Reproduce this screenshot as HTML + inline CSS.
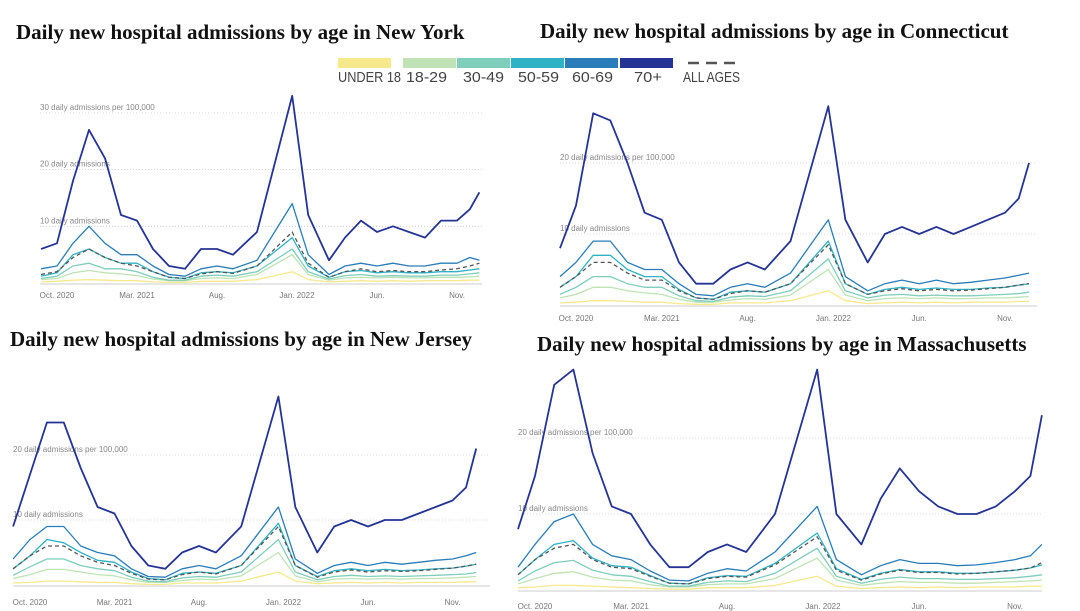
<!DOCTYPE html>
<html><head><meta charset="utf-8">
<style>
body{margin:0;background:#fff;width:1080px;height:611px;overflow:hidden;font-family:"Liberation Serif",serif}
svg{position:absolute;left:0;top:0}
</style></head>
<body>
<svg id="chart" width="1080" height="611">
<g font-family="Liberation Serif, serif" font-weight="bold" font-size="21" fill="#111">
<text x="16" y="39">Daily new hospital admissions by age in New York</text>
<text x="540" y="38">Daily new hospital admissions by age in Connecticut</text>
<text x="10" y="346">Daily new hospital admissions by age in New Jersey</text>
<text x="537" y="351">Daily new hospital admissions by age in Massachusetts</text>
</g>
<g id="legend" font-family="Liberation Sans, sans-serif" font-size="15" fill="#444"></g>
<g id="panels"></g>
</svg>
<script>
const ageGroups=["UNDER 18","18-29","30-49","50-59","60-69","70+","ALL AGES"];
const ageColors=["#f6e98c","#bfe3b4","#7fcdbb","#2fb2c3","#2a7db8","#253494","#555"];
// month offsets from Oct 2020 of each sample
const sampleMonths=[-1,0,1,2,3,4,5,6,7,8,9,10,11,12.5,14.7,15.7,17,18,19,20,21,22,23,24,25,25.8,26.4];
const tickLabels=["Oct. 2020","Mar. 2021","Aug.","Jan. 2022","Jun.","Nov."];
const tickMonths=[0,5,10,15,20,25];

const ny70=[6,7,18,27,22,12,11,6,3,2.5,6,6,5,9,33,12,4,8,11,9,10,9,8,11,11,13,16];
const ny60=[2.5,3,7,10,7,5,5,3,1.5,1.2,2.5,3,2.5,4,14,5,1.5,3,3.5,3,3.5,3,3,3.5,3.5,4.5,4];
const nyAll=[1.5,2,4.5,6,4.5,3.5,3,2,1,0.8,1.6,2,1.7,3,9,3.5,1,2,2.5,2,2.2,2,2,2.3,2.5,3,3.5];
const ny50=[1.2,1.8,5,6,4.5,3.5,3.5,2,1,0.8,1.8,2,1.8,3,8,3,1,2,2.2,1.8,2,1.8,1.8,2,2,2.3,2.5];
const ny30=[0.8,1.2,3,3.5,2.5,2.5,2,1,0.5,0.5,1.2,1.4,1.2,2,6,2,0.7,1.3,1.5,1.2,1.3,1.2,1.2,1.4,1.4,1.6,1.8];
const ny18=[0.6,0.8,1.8,2.2,1.8,1.6,1.3,0.7,0.4,0.4,0.8,0.9,0.8,1.5,5,1.5,0.5,0.9,1,0.9,1,0.9,0.9,1,1,1.1,1.2];
const nyU18=[0.2,0.3,0.5,0.6,0.5,0.4,0.4,0.2,0.1,0.1,0.3,0.3,0.3,0.6,2,0.6,0.2,0.3,0.4,0.3,0.4,0.3,0.4,0.4,0.4,0.5,0.5];

const ct70=[8,14,27,26,20,13,12,6,3,3,5,6,5,9,28,12,6,10,11,10,11,10,11,12,13,15,20];
const ct60=[4,6,9,9,6,5,5,3,1.5,1.3,2.5,3,2.5,4.5,12,4,2,3,3.5,3,3.5,3,3.2,3.5,3.8,4.2,4.5];
const ctAll=[2.5,4,6,6,4.5,3.5,3.5,2,1,0.8,1.6,2,1.8,3,8.5,3,1.5,2,2.3,2,2.2,2,2.1,2.3,2.5,2.8,3];
const ct50=[2.5,4,7,7,5,4,4,2.2,1,0.8,1.8,2,1.8,3,9,3,1.5,2.2,2.5,2.2,2.4,2.2,2.2,2.4,2.5,2.8,3];
const ct30=[1.5,2.5,4,4,3,2.5,2.5,1.3,0.6,0.5,1.1,1.3,1.2,2,6.5,2,1,1.4,1.5,1.3,1.4,1.3,1.3,1.4,1.5,1.6,1.8];
const ct18=[1,1.5,2.5,2.5,2,1.7,1.5,0.8,0.4,0.4,0.7,0.9,0.8,1.4,5,1.4,0.6,0.9,1,0.9,1,0.9,0.9,1,1,1.1,1.2];
const ctU18=[0.3,0.4,0.6,0.6,0.5,0.4,0.4,0.2,0.1,0.1,0.3,0.3,0.3,0.6,2,0.6,0.2,0.3,0.4,0.3,0.4,0.3,0.4,0.4,0.4,0.5,0.5];

const nj70=[9,17,25,25,18,12,11,6,3,2.5,5,6,5,9,29,12,5,9,10,9,10,10,11,12,13,15,21];
const nj60=[4,7,9,9,6,5,4.5,2.5,1.3,1.2,2.5,3,2.5,4.5,12,4,1.8,3,3.5,3,3.5,3.2,3.5,3.8,4,4.5,5];
const njAll=[2.5,4.5,6,6,4.5,3.5,3,1.8,0.9,0.8,1.6,2,1.7,3,9,3,1.2,2,2.3,2,2.2,2.1,2.2,2.4,2.6,2.9,3.2];
const nj50=[2.5,4.5,7,6.5,5,3.8,3.5,2,1,0.8,1.8,2,1.8,3,9.5,3,1.3,2.2,2.5,2.2,2.4,2.2,2.3,2.5,2.6,2.9,3.2];
const nj30=[1.5,2.8,4,4,3,2.5,2.2,1.2,0.6,0.5,1.1,1.3,1.2,2,7,2,0.8,1.3,1.5,1.3,1.4,1.3,1.4,1.5,1.6,1.7,1.9];
const nj18=[1,1.6,2.4,2.4,2,1.6,1.4,0.8,0.4,0.4,0.7,0.9,0.8,1.4,5,1.4,0.5,0.9,1,0.9,1,0.9,1,1,1.1,1.2,1.3];
const njU18=[0.3,0.4,0.6,0.6,0.5,0.4,0.4,0.2,0.1,0.1,0.3,0.3,0.3,0.6,2,0.6,0.2,0.3,0.4,0.3,0.4,0.3,0.4,0.4,0.4,0.5,0.5];

const ma70=[8,15,27,29,18,11,10,6,3,3,5,6,5,10,29,10,6,12,16,13,11,10,10,11,13,15,23];
const ma60=[3,6,9,10,6,4.5,4,2.5,1.3,1.2,2.2,2.8,2.5,5,11,4,2,3.2,4,3.5,3.5,3.2,3.3,3.6,4,4.5,6];
const maAll=[2,4,5.5,6,4,3,2.8,1.8,0.9,0.8,1.5,1.8,1.7,3.3,7,2.6,1.3,2.1,2.6,2.3,2.3,2.1,2.2,2.4,2.6,2.9,3.6];
const ma50=[2,4,6,6.5,4.2,3.2,3,1.9,0.9,0.8,1.6,1.9,1.8,3.5,7.5,2.8,1.4,2.2,2.7,2.4,2.4,2.2,2.2,2.4,2.6,2.9,3.3];
const ma30=[1.2,2.5,3.6,3.9,2.6,2,1.8,1.1,0.5,0.5,1,1.2,1.1,2.2,5.5,1.8,0.9,1.4,1.7,1.5,1.5,1.4,1.4,1.5,1.6,1.8,2];
const ma18=[0.8,1.5,2.2,2.4,1.7,1.3,1.2,0.7,0.4,0.4,0.7,0.8,0.8,1.5,4.2,1.3,0.6,0.9,1.1,1,1,0.9,0.9,1,1.1,1.2,1.3];
const maU18=[0.3,0.4,0.6,0.6,0.5,0.4,0.3,0.2,0.1,0.1,0.3,0.3,0.3,0.6,1.8,0.5,0.2,0.3,0.4,0.3,0.4,0.3,0.4,0.4,0.4,0.5,0.5];

const gridValues=[10,20,30];

const panels=[
 {id:"ny",org:57,perMonth:16,left:40,right:482,y0:283,pxPer:5.67,maxGrid:3,gl:["10 daily admissions","20 daily admissions","30 daily admissions per 100,000"],series:[nyU18,ny18,ny30,ny50,ny60,ny70,nyAll],ly:298},
 {id:"ct",org:576,perMonth:17.16,left:560,right:1037,y0:305,pxPer:7.1,maxGrid:2,gl:["10 daily admissions","20 daily admissions per 100,000"],series:[ctU18,ct18,ct30,ct50,ct60,ct70,ctAll],ly:321},
 {id:"nj",org:30,perMonth:16.9,left:13,right:490,y0:585,pxPer:6.5,maxGrid:2,gl:["10 daily admissions","20 daily admissions per 100,000"],series:[njU18,nj18,nj30,nj50,nj60,nj70,njAll],ly:605},
 {id:"ma",org:535,perMonth:19.2,left:518,right:1042,y0:590,pxPer:7.6,maxGrid:2,gl:["10 daily admissions","20 daily admissions per 100,000"],series:[maU18,ma18,ma30,ma50,ma60,ma70,maAll],ly:609}
];
const NS="http://www.w3.org/2000/svg";
function mk(t,a,p){const e=document.createElementNS(NS,t);for(const k in a)e.setAttribute(k,a[k]);p.appendChild(e);return e;}

// legend
const leg=document.getElementById("legend");
const swX=[338,403,457,511,565,620];
const labX=[338,406,463,518,572,634,683];
const labW=[63,41,41,41,41,28,57];
ageGroups.forEach((g,i)=>{
  if(i<6){
    const r=mk("rect",{x:swX[i],y:58,width:53,height:10,fill:ageColors[i]},leg);
    
    
  } else {
    const l=mk("line",{x1:688,y1:63,x2:736,y2:63,stroke:"#555","stroke-width":2.5,"stroke-dasharray":"11,7"},leg);
    
    
  }
  const t=mk("text",{x:labX[i],y:82,textLength:labW[i],lengthAdjust:"spacingAndGlyphs"},leg);
  t.textContent=g;
  
  
});

const root=document.getElementById("panels");
panels.forEach(p=>{
  const g=mk("g",{},root);
  
  
  const xs=m=>p.org+m*p.perMonth;
  const ys=v=>p.y0-v*p.pxPer;
  for(let k=0;k<p.maxGrid;k++){
    const y=ys(gridValues[k]);
    const gl=mk("line",{x1:p.left,x2:p.right,y1:y,y2:y,stroke:"#ccc","stroke-width":0.8,"stroke-dasharray":"1,2"},g);
    
    
    const gt=mk("text",{x:p.left,y:y-3,"font-size":8,"font-family":"Liberation Sans, sans-serif",fill:"#888"},g);
    gt.textContent=p.gl[k];
    
    
  }
  const ax=mk("line",{x1:p.left,x2:p.right,y1:p.y0+1,y2:p.y0+1,stroke:"#bbb","stroke-width":0.8},g);
  
  
  tickLabels.forEach((lab,k)=>{
    const t=mk("text",{x:xs(tickMonths[k]),y:p.ly,"font-size":8,"text-anchor":"middle","font-family":"Liberation Sans, sans-serif",fill:"#777"},g);
    t.textContent=lab;
    
    
  });
  p.series.forEach((arr,si)=>{
    const d=arr.map((v,i)=>(i?"L":"M")+Math.max(p.left,Math.min(p.right,xs(sampleMonths[i]))).toFixed(1)+","+ys(v).toFixed(1)).join("");
    const isAll=si==6;
    const path=mk("path",{d:d,fill:"none",stroke:ageColors[si],"stroke-width":si==5?1.8:1.3,"stroke-linejoin":"round","stroke-dasharray":isAll?"4,3":"none"},g);
    
    
  });
});
</script>
</body></html>
